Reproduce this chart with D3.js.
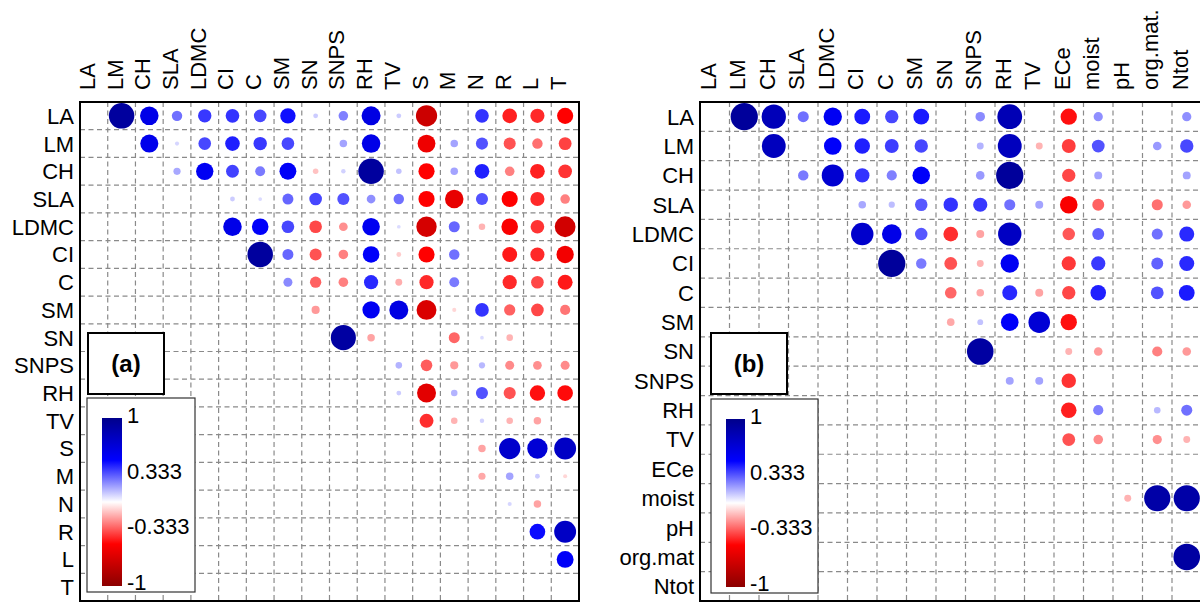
<!DOCTYPE html>
<html>
<head>
<meta charset="utf-8">
<script src="https://cdn.jsdelivr.net/npm/d3@7"></script>
<style>
  body { margin: 0; background: #fff; }
  text { font-family: "Liberation Sans", Arial, sans-serif; fill: #000; }
</style>
</head>
<body>
<div id="chart"></div>
<script>
// variables of panel (a)
const varsA = ["LA","LM","CH","SLA","LDMC","CI","C","SM","SN","SNPS","RH","TV","S","M","N","R","L","T"];

// upper triangle of (a), each row starts right after the diagonal, null = not shown
const corrA = [
  [.92, .6, .28, .39, .4, .36, .47, .1, .25, .62, .1, -.72, null, .4, -.44, -.42, -.5],
  [.58, .08, .36, .44, .39, .36, null, .18, .6, null, -.57, .18, .34, -.34, -.28, -.37],
  [.17, .55, .37, .26, .53, -.12, .09, .92, .12, -.5, .18, .44, -.25, -.44, -.4],
  [null, .1, .07, .3, .36, .34, .22, .28, -.5, -.6, .34, -.5, -.42, -.25],
  [.6, .52, .36, -.36, -.22, .56, .07, -.68, .3, -.15, -.52, -.4, -.7],
  [.92, .3, -.34, -.25, .52, -.1, -.5, .28, null, -.45, -.42, -.55],
  [.23, -.31, -.25, .42, -.16, -.42, .26, null, -.42, -.36, -.45],
  [-.2, null, .55, .62, -.66, -.08, .4, -.31, -.36, -.27],
  [.9, -.18, null, null, -.3, .07, -.15, null, null],
  [null, .15, -.32, -.2, .14, -.23, -.22, -.23],
  [.1, -.62, .15, .34, -.34, -.47, -.48],
  [-.41, -.15, .09, -.15, -.18, null],
  [null, -.18, .72, .68, .75],
  [-.17, .18, .1, -.08],
  [.08, -.18, null],
  [.48, .75],
  [.53],
  []
];

// variables of panel (b)
const colVarsB = ["LA","LM","CH","SLA","LDMC","CI","C","SM","SN","SNPS","RH","TV","ECe","moist","pH","org.mat.","Ntot"];
const rowVarsB = ["LA","LM","CH","SLA","LDMC","CI","C","SM","SN","SNPS","RH","TV","ECe","moist","pH","org.mat","Ntot"];

const corrB = [
  [.93, .8, .28, .55, .45, .36, .45, null, .23, .82, null, -.47, .22, null, null, .22],
  [.78, null, .52, .44, .38, .36, null, .15, .78, -.15, -.38, .34, null, .2, .36],
  [.26, .7, .4, .25, .52, null, .2, .93, null, -.36, .18, null, null, .18],
  [null, .17, .13, .33, .4, .39, .28, .18, -.52, -.31, null, -.28, -.2],
  [.72, .6, .33, -.41, -.18, .76, null, -.33, .31, null, .28, .42],
  [.93, .26, -.34, -.15, .55, null, -.39, .39, null, .31, .42],
  [null, -.3, -.17, .42, -.18, -.36, .44, null, .34, .45],
  [-.17, .12, .52, .68, -.47, null, null, null, null],
  [.9, null, null, -.15, -.2, null, -.25, -.2],
  [.18, .18, -.4, null, null, null, null],
  [null, -.44, .25, null, .14, .28],
  [-.34, -.23, null, -.22, -.15],
  [null, null, null, null],
  [-.15, .88, .88],
  [null, null],
  [.9],
  []
];

const legendTicks = [1, 0.333, -0.333, -1];
const panelTags = ["(a)", "(b)"];

const svgWidth = 1200, svgHeight = 604;

const svg = d3.select('#chart')
    .append('svg')
    .attr('width', svgWidth)
    .attr('height', svgHeight);

const colorScale = d3.scaleLinear()
    .domain([-1, -0.5, 0, 0.5, 1])
    .range(["#8B0000", "#FF0000", "#FFFFFF", "#0000FF", "#00008B"]);

// legend gradient
const grad = svg.append("defs").append("linearGradient")
    .attr("id", "corrGrad")
    .attr("x1", 0).attr("y1", 0).attr("x2", 0).attr("y2", 1);
grad.selectAll("stop")
    .data([1, 0.5, 0, -0.5, -1])
    .join("stop")
    .attr("offset", d => (1 - d) / 2)
    .attr("stop-color", d => colorScale(d));

function drawPanel(rowVars, colVars, rows, lay, tag){

    let g = svg.append("g");

    let x = d3.scaleBand().domain(colVars).range([lay.left, lay.right]);
    let y = d3.scaleBand().domain(rowVars).range([lay.top, lay.bottom]);
    let rScale = d3.scalePow().exponent(0.75)
        .domain([0, 1])
        .range([0, 0.49 * Math.min(x.bandwidth(), y.bandwidth())]);

    // flatten the triangle into cells
    let cells = [];
    rows.forEach((row, i) => {
        row.forEach((v, k) => {
            if (v !== null) cells.push({row: rowVars[i], col: colVars[i + 1 + k], value: v});
        });
    });

    // dashed grid
    let inner = d3.range(1, colVars.length);
    g.selectAll(".vline")
        .data(inner)
        .join("line")
        .attr("x1", d => x(colVars[d])).attr("x2", d => x(colVars[d]))
        .attr("y1", lay.top).attr("y2", lay.bottom)
        .attr("stroke", "#8a8a8a").attr("stroke-width", 1.2)
        .attr("stroke-dasharray", "5,3.5");
    g.selectAll(".hline")
        .data(d3.range(1, rowVars.length))
        .join("line")
        .attr("y1", d => y(rowVars[d])).attr("y2", d => y(rowVars[d]))
        .attr("x1", lay.left).attr("x2", lay.right)
        .attr("stroke", "#8a8a8a").attr("stroke-width", 1.2)
        .attr("stroke-dasharray", "5,3.5");

    g.selectAll("circle")
        .data(cells)
        .join("circle")
        .attr("cx", d => x(d.col) + x.bandwidth() / 2)
        .attr("cy", d => y(d.row) + y.bandwidth() / 2)
        .attr("r", d => rScale(Math.abs(d.value)))
        .attr("fill", d => colorScale(d.value));

    g.append("rect")
        .attr("x", lay.left).attr("y", lay.top)
        .attr("width", lay.right - lay.left).attr("height", lay.bottom - lay.top)
        .attr("fill", "none").attr("stroke", "#000").attr("stroke-width", 2);

    // labels
    g.selectAll(".rowlab")
        .data(rowVars)
        .join("text")
        .attr("x", lay.left - 6)
        .attr("y", d => y(d) + y.bandwidth() / 2)
        .attr("dy", "0.36em")
        .attr("text-anchor", "end")
        .style("font-size", "22px")
        .text(d => d);

    g.selectAll(".collab")
        .data(colVars)
        .join("text")
        .attr("transform", d => "translate(" + (x(d) + x.bandwidth() / 2 + 1) + "," + (lay.top - 12) + ") rotate(-90)")
        .attr("text-anchor", "start")
        .style("font-size", "22px")
        .text(d => d);

    // tag box
    g.append("rect")
        .attr("x", lay.tag[0]).attr("y", lay.tag[1])
        .attr("width", lay.tag[2]).attr("height", lay.tag[3])
        .attr("fill", "#fff").attr("stroke", "#000").attr("stroke-width", 2);
    g.append("text")
        .attr("x", lay.tag[0] + lay.tag[2] / 2)
        .attr("y", lay.tag[1] + lay.tag[3] / 2)
        .attr("dy", "0.35em")
        .attr("text-anchor", "middle")
        .style("font-size", "24px")
        .style("font-weight", "bold")
        .text(tag);

    // colour legend
    g.append("rect")
        .attr("x", lay.legend[0]).attr("y", lay.legend[1])
        .attr("width", lay.legend[2]).attr("height", lay.legend[3])
        .attr("fill", "#fff").attr("stroke", "#333").attr("stroke-width", 1.2);
    g.append("rect")
        .attr("x", lay.bar[0]).attr("y", lay.bar[1])
        .attr("width", lay.bar[2]).attr("height", lay.bar[3])
        .attr("fill", "url(#corrGrad)");

    let ly = d3.scaleLinear().domain([1, -1]).range([lay.bar[1] - 3, lay.bar[1] + lay.bar[3] - 4]);
    g.selectAll(".legtick")
        .data(legendTicks)
        .join("text")
        .attr("x", lay.bar[0] + lay.bar[2] + 5)
        .attr("y", d => ly(d))
        .attr("dy", "0.36em")
        .style("font-size", "22px")
        .text(d => d);
}

drawPanel(varsA, varsA, corrA, {
    left: 80, right: 579, top: 102, bottom: 601,
    tag: [88, 333, 76, 61],
    legend: [87, 398, 108, 194],
    bar: [102, 418, 20, 168]
}, panelTags[0]);

drawPanel(rowVarsB, colVarsB, corrB, {
    left: 700, right: 1201.5, top: 102, bottom: 601,
    tag: [711, 333, 76, 61],
    legend: [711, 399, 107, 194],
    bar: [726, 419, 19, 168]
}, panelTags[1]);
</script>
</body>
</html>
